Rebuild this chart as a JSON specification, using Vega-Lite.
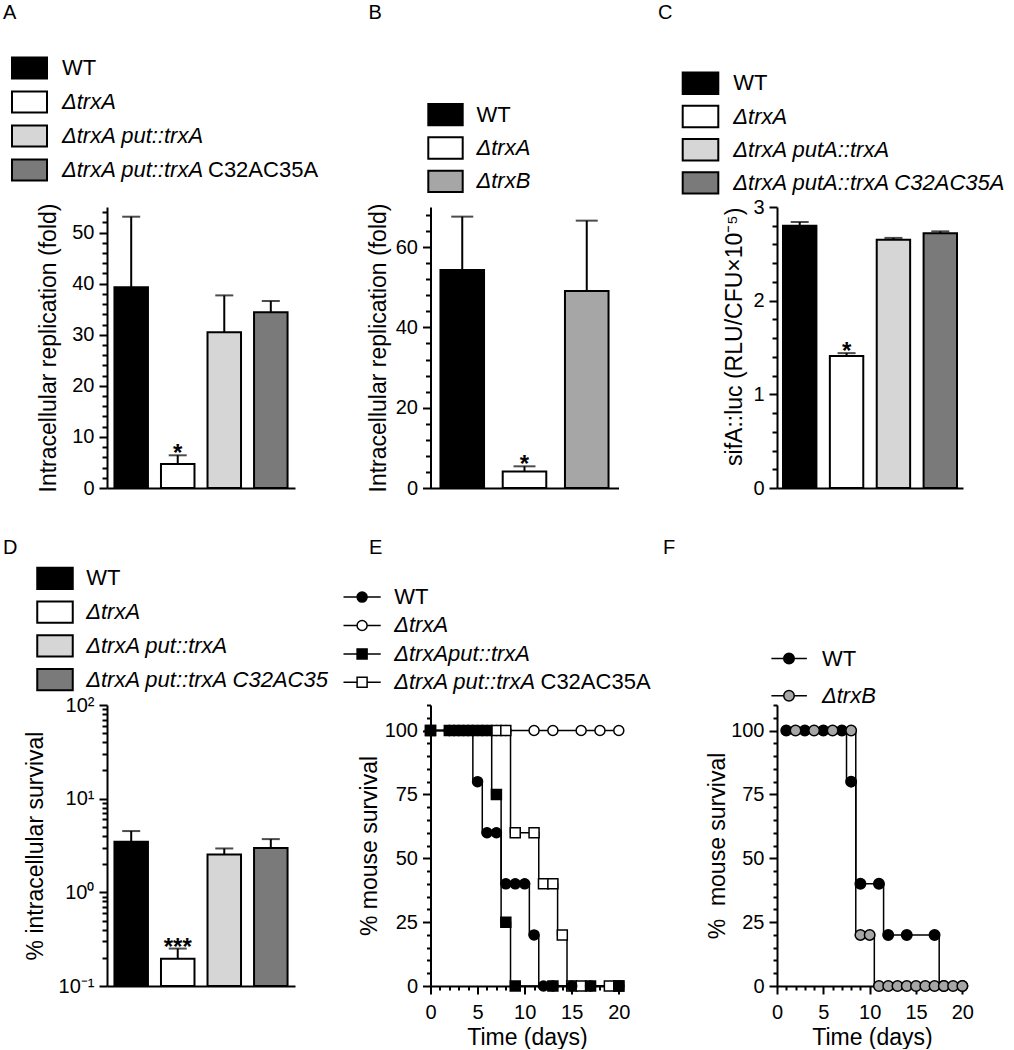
{
"$schema": "https://vega.github.io/schema/vega-lite/v6.json",
"background": "white",
"padding": {"left": 3, "top": 3, "right": 0, "bottom": 0},
"config": {
  "view": {"stroke": null},
  "font": "Liberation Sans",
  "text": {"font": "Liberation Sans", "color": "black"},
  "axis": {"domainColor": "black", "domainWidth": 2, "tickColor": "black", "tickWidth": 2, "labelColor": "black", "labelFont": "Liberation Sans", "labelFontSize": 20, "labelPadding": 5, "labelFlush": false, "labelOverlap": false, "titleFont": "Liberation Sans", "titleFontSize": 23, "titleFontWeight": "normal", "titleColor": "black", "grid": false}
},
"datasets": {
  "eLine": [
    {"s": "WT", "day": 0, "pct": 100}, {"s": "WT", "day": 4.5, "pct": 80}, {"s": "WT", "day": 5.5, "pct": 60}, {"s": "WT", "day": 7.5, "pct": 40}, {"s": "WT", "day": 10.5, "pct": 20}, {"s": "WT", "day": 11.5, "pct": 0}, {"s": "WT", "day": 20, "pct": 0},
    {"s": "ΔtrxA", "day": 0, "pct": 100}, {"s": "ΔtrxA", "day": 20, "pct": 100},
    {"s": "ΔtrxAput::trxA", "day": 0, "pct": 100}, {"s": "ΔtrxAput::trxA", "day": 6.5, "pct": 75}, {"s": "ΔtrxAput::trxA", "day": 7.5, "pct": 25}, {"s": "ΔtrxAput::trxA", "day": 8.5, "pct": 0}, {"s": "ΔtrxAput::trxA", "day": 20, "pct": 0},
    {"s": "ΔtrxA put::trxA C32AC35A", "day": 0, "pct": 100}, {"s": "ΔtrxA put::trxA C32AC35A", "day": 8.5, "pct": 60}, {"s": "ΔtrxA put::trxA C32AC35A", "day": 11.5, "pct": 40}, {"s": "ΔtrxA put::trxA C32AC35A", "day": 13.5, "pct": 20}, {"s": "ΔtrxA put::trxA C32AC35A", "day": 14.5, "pct": 0}, {"s": "ΔtrxA put::trxA C32AC35A", "day": 20, "pct": 0}
  ],
  "ePts": [
    {"s": "ΔtrxA", "day": 0, "pct": 100}, {"s": "ΔtrxA", "day": 2, "pct": 100}, {"s": "ΔtrxA", "day": 3, "pct": 100}, {"s": "ΔtrxA", "day": 4, "pct": 100}, {"s": "ΔtrxA", "day": 5, "pct": 100}, {"s": "ΔtrxA", "day": 6, "pct": 100}, {"s": "ΔtrxA", "day": 7, "pct": 100}, {"s": "ΔtrxA", "day": 8, "pct": 100}, {"s": "ΔtrxA", "day": 11, "pct": 100}, {"s": "ΔtrxA", "day": 13, "pct": 100}, {"s": "ΔtrxA", "day": 16, "pct": 100}, {"s": "ΔtrxA", "day": 18, "pct": 100}, {"s": "ΔtrxA", "day": 20, "pct": 100},
    {"s": "ΔtrxA put::trxA C32AC35A", "day": 0, "pct": 100}, {"s": "ΔtrxA put::trxA C32AC35A", "day": 7, "pct": 100}, {"s": "ΔtrxA put::trxA C32AC35A", "day": 8, "pct": 100}, {"s": "ΔtrxA put::trxA C32AC35A", "day": 9, "pct": 60}, {"s": "ΔtrxA put::trxA C32AC35A", "day": 11, "pct": 60}, {"s": "ΔtrxA put::trxA C32AC35A", "day": 12, "pct": 40}, {"s": "ΔtrxA put::trxA C32AC35A", "day": 13, "pct": 40}, {"s": "ΔtrxA put::trxA C32AC35A", "day": 14, "pct": 20}, {"s": "ΔtrxA put::trxA C32AC35A", "day": 15, "pct": 0}, {"s": "ΔtrxA put::trxA C32AC35A", "day": 16, "pct": 0}, {"s": "ΔtrxA put::trxA C32AC35A", "day": 19, "pct": 0}, {"s": "ΔtrxA put::trxA C32AC35A", "day": 20, "pct": 0},
    {"s": "WT", "day": 0, "pct": 100}, {"s": "WT", "day": 2, "pct": 100}, {"s": "WT", "day": 3, "pct": 100}, {"s": "WT", "day": 4, "pct": 100}, {"s": "WT", "day": 5, "pct": 80}, {"s": "WT", "day": 6, "pct": 60}, {"s": "WT", "day": 7, "pct": 60}, {"s": "WT", "day": 8, "pct": 40}, {"s": "WT", "day": 9, "pct": 40}, {"s": "WT", "day": 10, "pct": 40}, {"s": "WT", "day": 11, "pct": 20}, {"s": "WT", "day": 12, "pct": 0}, {"s": "WT", "day": 13, "pct": 0}, {"s": "WT", "day": 15, "pct": 0}, {"s": "WT", "day": 17, "pct": 0}, {"s": "WT", "day": 20, "pct": 0},
    {"s": "ΔtrxAput::trxA", "day": 0, "pct": 100}, {"s": "ΔtrxAput::trxA", "day": 2, "pct": 100}, {"s": "ΔtrxAput::trxA", "day": 3, "pct": 100}, {"s": "ΔtrxAput::trxA", "day": 4, "pct": 100}, {"s": "ΔtrxAput::trxA", "day": 5, "pct": 100}, {"s": "ΔtrxAput::trxA", "day": 6, "pct": 100}, {"s": "ΔtrxAput::trxA", "day": 7, "pct": 75}, {"s": "ΔtrxAput::trxA", "day": 8, "pct": 25}, {"s": "ΔtrxAput::trxA", "day": 9, "pct": 0}, {"s": "ΔtrxAput::trxA", "day": 13, "pct": 0}, {"s": "ΔtrxAput::trxA", "day": 17, "pct": 0}, {"s": "ΔtrxAput::trxA", "day": 20, "pct": 0}
  ],
  "fLine": [
    {"s": "WT", "day": 1, "pct": 100}, {"s": "WT", "day": 7.5, "pct": 80}, {"s": "WT", "day": 8.5, "pct": 40}, {"s": "WT", "day": 11.5, "pct": 20}, {"s": "WT", "day": 17.5, "pct": 0}, {"s": "WT", "day": 20, "pct": 0},
    {"s": "ΔtrxB", "day": 1, "pct": 100}, {"s": "ΔtrxB", "day": 8.5, "pct": 20}, {"s": "ΔtrxB", "day": 10.5, "pct": 0}, {"s": "ΔtrxB", "day": 20, "pct": 0}
  ],
  "fPts": [
    {"s": "WT", "day": 1, "pct": 100}, {"s": "WT", "day": 3, "pct": 100}, {"s": "WT", "day": 5, "pct": 100}, {"s": "WT", "day": 7, "pct": 100}, {"s": "WT", "day": 8, "pct": 80}, {"s": "WT", "day": 9, "pct": 40}, {"s": "WT", "day": 11, "pct": 40}, {"s": "WT", "day": 12, "pct": 20}, {"s": "WT", "day": 14, "pct": 20}, {"s": "WT", "day": 17, "pct": 20}, {"s": "WT", "day": 18, "pct": 0}, {"s": "WT", "day": 20, "pct": 0},
    {"s": "ΔtrxB", "day": 2, "pct": 100}, {"s": "ΔtrxB", "day": 4, "pct": 100}, {"s": "ΔtrxB", "day": 6, "pct": 100}, {"s": "ΔtrxB", "day": 8, "pct": 100}, {"s": "ΔtrxB", "day": 9, "pct": 20}, {"s": "ΔtrxB", "day": 10, "pct": 20}, {"s": "ΔtrxB", "day": 11, "pct": 0}, {"s": "ΔtrxB", "day": 12, "pct": 0}, {"s": "ΔtrxB", "day": 13, "pct": 0}, {"s": "ΔtrxB", "day": 14, "pct": 0}, {"s": "ΔtrxB", "day": 15, "pct": 0}, {"s": "ΔtrxB", "day": 16, "pct": 0}, {"s": "ΔtrxB", "day": 17, "pct": 0}, {"s": "ΔtrxB", "day": 18, "pct": 0}, {"s": "ΔtrxB", "day": 19, "pct": 0}, {"s": "ΔtrxB", "day": 20, "pct": 0}
  ]
},
"columns": 3,
"spacing": {"row": 4, "column": 135.5},
"bounds": "flush",
"align": "each",
"resolve": {"scale": {"x": "independent", "y": "independent", "fill": "independent", "shape": "independent", "size": "independent"}},
"concat": [
{
  "width": 188, "height": 200,
  "data": {"values": [
    {"strain": "WT", "label": "WT", "suffix": "", "i": 0},
    {"strain": "ΔtrxA", "label": "ΔtrxA", "suffix": "", "i": 1},
    {"strain": "ΔtrxA put::trxA", "label": "ΔtrxA put::trxA", "suffix": "", "i": 2},
    {"strain": "ΔtrxA put::trxA C32AC35A", "label": "ΔtrxA put::trxA", "suffix": "C32AC35A", "i": 3}
  ]},
  "layer": [
    {"data": {"values": [{"panel": "A"}]}, "mark": {"type": "text", "fontSize": 20, "align": "left", "baseline": "alphabetic"},
     "encoding": {"x": {"datum": -104, "type": "quantitative", "scale": {"domain": [0, 188], "nice": false, "zero": false}, "axis": null}, "y": {"datum": -1.4412, "type": "quantitative", "scale": {"domain": [-1.9118, 3.9706], "reverse": true, "nice": false, "zero": false}, "axis": null}, "text": {"field": "panel"}}},
    {"mark": {"type": "point", "shape": "M-1,-0.6H1V0.6H-1Z", "size": 1225, "filled": true, "stroke": "black", "strokeWidth": 2, "opacity": 1},
     "encoding": {"x": {"datum": -77.5, "type": "quantitative", "scale": {"domain": [0, 188], "nice": false, "zero": false}, "axis": null}, "y": {"field": "i", "type": "quantitative", "scale": {"domain": [-1.9118, 3.9706], "reverse": true, "nice": false, "zero": false}, "axis": null},
       "fill": {"field": "strain", "type": "nominal", "scale": {"domain": ["WT", "ΔtrxA", "ΔtrxA put::trxA", "ΔtrxA put::trxA C32AC35A"], "range": ["#000000", "#ffffff", "#d6d6d6", "#7a7a7a"]}, "legend": null}}},
    {"transform": [{"filter": "datum.label == 'WT'"}], "mark": {"type": "text", "fontSize": 22, "align": "left", "baseline": "middle"},
     "encoding": {"x": {"datum": -45, "type": "quantitative", "scale": {"domain": [0, 188], "nice": false, "zero": false}, "axis": null}, "y": {"field": "i", "type": "quantitative", "scale": {"domain": [-1.9118, 3.9706], "reverse": true, "nice": false, "zero": false}, "axis": null}, "text": {"field": "label"}}},
    {"transform": [{"filter": "datum.label != 'WT'"}], "mark": {"type": "text", "fontSize": 22, "align": "left", "baseline": "middle", "fontStyle": "italic"},
     "encoding": {"x": {"datum": -45, "type": "quantitative", "scale": {"domain": [0, 188], "nice": false, "zero": false}, "axis": null}, "y": {"field": "i", "type": "quantitative", "scale": {"domain": [-1.9118, 3.9706], "reverse": true, "nice": false, "zero": false}, "axis": null}, "text": {"field": "label"}}},
    {"mark": {"type": "text", "fontSize": 22, "align": "left", "baseline": "middle"},
     "encoding": {"x": {"datum": 101, "type": "quantitative", "scale": {"domain": [0, 188], "nice": false, "zero": false}, "axis": null}, "y": {"field": "i", "type": "quantitative", "scale": {"domain": [-1.9118, 3.9706], "reverse": true, "nice": false, "zero": false}, "axis": null}, "text": {"field": "suffix"}}}
  ]
},
{
  "width": 211, "height": 200,
  "data": {"values": [
    {"strain": "WT", "label": "WT", "i": 0},
    {"strain": "ΔtrxA", "label": "ΔtrxA", "i": 1},
    {"strain": "ΔtrxB", "label": "ΔtrxB", "i": 2}
  ]},
  "layer": [
    {"data": {"values": [{"panel": "B"}]}, "mark": {"type": "text", "fontSize": 20, "align": "left", "baseline": "alphabetic"},
     "encoding": {"x": {"datum": -62, "type": "quantitative", "scale": {"domain": [0, 211], "nice": false, "zero": false}, "axis": null}, "y": {"datum": -2.8739, "type": "quantitative", "scale": {"domain": [-3.3544, 2.6516], "reverse": true, "nice": false, "zero": false}, "axis": null}, "text": {"field": "panel"}}},
    {"mark": {"type": "point", "shape": "M-1,-0.62H1V0.62H-1Z", "size": 1183, "filled": true, "stroke": "black", "strokeWidth": 2, "opacity": 1},
     "encoding": {"x": {"datum": 15, "type": "quantitative", "scale": {"domain": [0, 211], "nice": false, "zero": false}, "axis": null}, "y": {"field": "i", "type": "quantitative", "scale": {"domain": [-3.3544, 2.6516], "reverse": true, "nice": false, "zero": false}, "axis": null},
       "fill": {"field": "strain", "type": "nominal", "scale": {"domain": ["WT", "ΔtrxA", "ΔtrxB"], "range": ["#000000", "#ffffff", "#a6a6a6"]}, "legend": null}}},
    {"transform": [{"filter": "datum.label == 'WT'"}], "mark": {"type": "text", "fontSize": 22, "align": "left", "baseline": "middle"},
     "encoding": {"x": {"datum": 46, "type": "quantitative", "scale": {"domain": [0, 211], "nice": false, "zero": false}, "axis": null}, "y": {"field": "i", "type": "quantitative", "scale": {"domain": [-3.3544, 2.6516], "reverse": true, "nice": false, "zero": false}, "axis": null}, "text": {"field": "label"}}},
    {"transform": [{"filter": "datum.label != 'WT'"}], "mark": {"type": "text", "fontSize": 22, "align": "left", "baseline": "middle", "fontStyle": "italic"},
     "encoding": {"x": {"datum": 46, "type": "quantitative", "scale": {"domain": [0, 211], "nice": false, "zero": false}, "axis": null}, "y": {"field": "i", "type": "quantitative", "scale": {"domain": [-3.3544, 2.6516], "reverse": true, "nice": false, "zero": false}, "axis": null}, "text": {"field": "label"}}}
  ]
},
{
  "width": 186, "height": 200,
  "data": {"values": [
    {"strain": "WT", "label": "WT", "i": 0},
    {"strain": "ΔtrxA", "label": "ΔtrxA", "i": 1},
    {"strain": "ΔtrxA putA::trxA", "label": "ΔtrxA putA::trxA", "i": 2},
    {"strain": "ΔtrxA putA::trxA C32AC35A", "label": "ΔtrxA putA::trxA C32AC35A", "i": 3}
  ]},
  "layer": [
    {"data": {"values": [{"panel": "C"}]}, "mark": {"type": "text", "fontSize": 20, "align": "left", "baseline": "alphabetic"},
     "encoding": {"x": {"datum": -119, "type": "quantitative", "scale": {"domain": [0, 186], "nice": false, "zero": false}, "axis": null}, "y": {"datum": -1.9367, "type": "quantitative", "scale": {"domain": [-2.4187, 3.6054], "reverse": true, "nice": false, "zero": false}, "axis": null}, "text": {"field": "panel"}}},
    {"mark": {"type": "point", "shape": "M-1,-0.6H1V0.6H-1Z", "size": 1267, "filled": true, "stroke": "black", "strokeWidth": 2, "opacity": 1},
     "encoding": {"x": {"datum": -76.5, "type": "quantitative", "scale": {"domain": [0, 186], "nice": false, "zero": false}, "axis": null}, "y": {"field": "i", "type": "quantitative", "scale": {"domain": [-2.4187, 3.6054], "reverse": true, "nice": false, "zero": false}, "axis": null},
       "fill": {"field": "strain", "type": "nominal", "scale": {"domain": ["WT", "ΔtrxA", "ΔtrxA putA::trxA", "ΔtrxA putA::trxA C32AC35A"], "range": ["#000000", "#ffffff", "#d6d6d6", "#7a7a7a"]}, "legend": null}}},
    {"transform": [{"filter": "datum.label == 'WT'"}], "mark": {"type": "text", "fontSize": 22, "align": "left", "baseline": "middle"},
     "encoding": {"x": {"datum": -43.7, "type": "quantitative", "scale": {"domain": [0, 186], "nice": false, "zero": false}, "axis": null}, "y": {"field": "i", "type": "quantitative", "scale": {"domain": [-2.4187, 3.6054], "reverse": true, "nice": false, "zero": false}, "axis": null}, "text": {"field": "label"}}},
    {"transform": [{"filter": "datum.label != 'WT'"}], "mark": {"type": "text", "fontSize": 22, "align": "left", "baseline": "middle", "fontStyle": "italic"},
     "encoding": {"x": {"datum": -43.7, "type": "quantitative", "scale": {"domain": [0, 186], "nice": false, "zero": false}, "axis": null}, "y": {"field": "i", "type": "quantitative", "scale": {"domain": [-2.4187, 3.6054], "reverse": true, "nice": false, "zero": false}, "axis": null}, "text": {"field": "label"}}}
  ]
},
{
  "width": 188, "height": 281,
  "data": {"values": [
    {"strain": "WT", "value": 39.3, "err": 53.1, "sig": ""},
    {"strain": "ΔtrxA", "value": 4.7, "err": 6.4, "sig": "*"},
    {"strain": "ΔtrxA put::trxA", "value": 30.5, "err": 37.7, "sig": ""},
    {"strain": "ΔtrxA put::trxA C32AC35A", "value": 34.4, "err": 36.6, "sig": ""}
  ]},
  "encoding": {"x": {"field": "strain", "type": "nominal", "sort": null, "scale": {"paddingInner": 0.28, "paddingOuter": 0.16}, "axis": {"labels": false, "ticks": false, "title": null}}},
  "layer": [
    {"mark": {"type": "bar", "stroke": "black", "strokeWidth": 2},
     "encoding": {"y": {"field": "value", "type": "quantitative", "scale": {"domain": [0, 55], "nice": false}, "axis": {"orient": "left", "values": [0, 10, 20, 30, 40, 50], "tickSize": 8, "title": "Intracellular replication (fold)", "titlePadding": 11}},
       "fill": {"field": "strain", "type": "nominal", "scale": {"domain": ["WT", "ΔtrxA", "ΔtrxA put::trxA", "ΔtrxA put::trxA C32AC35A"], "range": ["#000000", "#ffffff", "#d6d6d6", "#7a7a7a"]}, "legend": null}}},
    {"mark": {"type": "rule", "strokeWidth": 2, "color": "black"},
     "encoding": {"y": {"field": "value", "type": "quantitative", "axis": {"orient": "left", "values": [2, 4, 6, 8, 12, 14, 16, 18, 22, 24, 26, 28, 32, 34, 36, 38, 42, 44, 46, 48, 52, 54], "tickSize": 5, "labels": false, "domain": false, "title": null}}, "y2": {"field": "err"}}},
    {"mark": {"type": "tick", "orient": "horizontal", "size": 18, "thickness": 2, "color": "black"},
     "encoding": {"y": {"field": "err", "type": "quantitative", "axis": null}}},
    {"mark": {"type": "text", "fontSize": 24, "fontWeight": "bold", "baseline": "alphabetic", "dy": 6},
     "encoding": {"y": {"field": "err", "type": "quantitative", "axis": null}, "text": {"field": "sig"}}}
  ],
  "resolve": {"axis": {"y": "independent"}}
},
{
  "width": 188, "height": 281,
  "data": {"values": [
    {"strain": "WT", "value": 54.3, "err": 67.6, "sig": ""},
    {"strain": "ΔtrxA", "value": 4.1, "err": 5.4, "sig": "*"},
    {"strain": "ΔtrxB", "value": 49.1, "err": 66.6, "sig": ""}
  ]},
  "encoding": {"x": {"field": "strain", "type": "nominal", "sort": null, "scale": {"paddingInner": 0.3, "paddingOuter": 0.16}, "axis": {"labels": false, "ticks": false, "title": null}}},
  "layer": [
    {"mark": {"type": "bar", "stroke": "black", "strokeWidth": 2},
     "encoding": {"y": {"field": "value", "type": "quantitative", "scale": {"domain": [0, 70], "nice": false}, "axis": {"orient": "left", "values": [0, 20, 40, 60], "tickSize": 8, "title": "Intracellular replication (fold)", "titlePadding": 5}},
       "fill": {"field": "strain", "type": "nominal", "scale": {"domain": ["WT", "ΔtrxA", "ΔtrxB"], "range": ["#000000", "#ffffff", "#a6a6a6"]}, "legend": null}}},
    {"mark": {"type": "rule", "strokeWidth": 2, "color": "black"},
     "encoding": {"y": {"field": "value", "type": "quantitative", "axis": {"orient": "left", "values": [4, 8, 12, 16, 24, 28, 32, 36, 44, 48, 52, 56, 64, 68], "tickSize": 5, "labels": false, "domain": false, "title": null}}, "y2": {"field": "err"}}},
    {"mark": {"type": "tick", "orient": "horizontal", "size": 22, "thickness": 2, "color": "black"},
     "encoding": {"y": {"field": "err", "type": "quantitative", "axis": null}}},
    {"mark": {"type": "text", "fontSize": 24, "fontWeight": "bold", "baseline": "alphabetic", "dy": 6},
     "encoding": {"y": {"field": "err", "type": "quantitative", "axis": null}, "text": {"field": "sig"}}}
  ],
  "resolve": {"axis": {"y": "independent"}}
},
{
  "width": 186, "height": 281,
  "data": {"values": [
    {"strain": "WT", "value": 2.8, "err": 2.84, "sig": ""},
    {"strain": "ΔtrxA", "value": 1.41, "err": 1.44, "sig": "*"},
    {"strain": "ΔtrxA putA::trxA", "value": 2.65, "err": 2.67, "sig": ""},
    {"strain": "ΔtrxA putA::trxA C32AC35A", "value": 2.72, "err": 2.74, "sig": ""}
  ]},
  "encoding": {"x": {"field": "strain", "type": "nominal", "sort": null, "scale": {"paddingInner": 0.287, "paddingOuter": 0.128}, "axis": {"labels": false, "ticks": false, "title": null}}},
  "layer": [
    {"mark": {"type": "bar", "stroke": "black", "strokeWidth": 2},
     "encoding": {"y": {"field": "value", "type": "quantitative", "scale": {"domain": [0, 3], "nice": false}, "axis": {"orient": "left", "values": [0, 1, 2, 3], "tickSize": 8, "title": "sifA::luc (RLU/CFU×10⁻⁵)", "titleAnchor": "end", "titlePadding": 6}},
       "fill": {"field": "strain", "type": "nominal", "scale": {"domain": ["WT", "ΔtrxA", "ΔtrxA putA::trxA", "ΔtrxA putA::trxA C32AC35A"], "range": ["#000000", "#ffffff", "#d6d6d6", "#7a7a7a"]}, "legend": null}}},
    {"mark": {"type": "rule", "strokeWidth": 2, "color": "black"},
     "encoding": {"y": {"field": "value", "type": "quantitative", "axis": {"orient": "left", "values": [0.2, 0.4, 0.6, 0.8, 1.2, 1.4, 1.6, 1.8, 2.2, 2.4, 2.6, 2.8], "tickSize": 5, "labels": false, "domain": false, "title": null}}, "y2": {"field": "err"}}},
    {"mark": {"type": "tick", "orient": "horizontal", "size": 18, "thickness": 2, "color": "black"},
     "encoding": {"y": {"field": "err", "type": "quantitative", "axis": null}}},
    {"mark": {"type": "text", "fontSize": 24, "fontWeight": "bold", "baseline": "alphabetic", "dy": 6},
     "encoding": {"y": {"field": "err", "type": "quantitative", "axis": null}, "text": {"field": "sig"}}}
  ],
  "resolve": {"axis": {"y": "independent"}}
},
{
  "width": 188, "height": 209,
  "data": {"values": [
    {"strain": "WT", "label": "WT", "i": 0},
    {"strain": "ΔtrxA", "label": "ΔtrxA", "i": 1},
    {"strain": "ΔtrxA put::trxA", "label": "ΔtrxA put::trxA", "i": 2},
    {"strain": "ΔtrxA put::trxA C32AC35", "label": "ΔtrxA put::trxA C32AC35", "i": 3}
  ]},
  "layer": [
    {"data": {"values": [{"panel": "D"}]}, "mark": {"type": "text", "fontSize": 20, "align": "left", "baseline": "alphabetic"},
     "encoding": {"x": {"datum": -104, "type": "quantitative", "scale": {"domain": [0, 188], "nice": false, "zero": false}, "axis": null}, "y": {"datum": -0.7042, "type": "quantitative", "scale": {"domain": [-2.5533, 3.6301], "reverse": true, "nice": false, "zero": false}, "axis": null}, "text": {"field": "panel"}}},
    {"mark": {"type": "point", "shape": "M-1,-0.6H1V0.6H-1Z", "size": 1260, "filled": true, "stroke": "black", "strokeWidth": 2, "opacity": 1},
     "encoding": {"x": {"datum": -52, "type": "quantitative", "scale": {"domain": [0, 188], "nice": false, "zero": false}, "axis": null}, "y": {"field": "i", "type": "quantitative", "scale": {"domain": [-2.5533, 3.6301], "reverse": true, "nice": false, "zero": false}, "axis": null},
       "fill": {"field": "strain", "type": "nominal", "scale": {"domain": ["WT", "ΔtrxA", "ΔtrxA put::trxA", "ΔtrxA put::trxA C32AC35"], "range": ["#000000", "#ffffff", "#d6d6d6", "#7a7a7a"]}, "legend": null}}},
    {"transform": [{"filter": "datum.label == 'WT'"}], "mark": {"type": "text", "fontSize": 22, "align": "left", "baseline": "middle"},
     "encoding": {"x": {"datum": -20.8, "type": "quantitative", "scale": {"domain": [0, 188], "nice": false, "zero": false}, "axis": null}, "y": {"field": "i", "type": "quantitative", "scale": {"domain": [-2.5533, 3.6301], "reverse": true, "nice": false, "zero": false}, "axis": null}, "text": {"field": "label"}}},
    {"transform": [{"filter": "datum.label != 'WT'"}], "mark": {"type": "text", "fontSize": 22, "align": "left", "baseline": "middle", "fontStyle": "italic"},
     "encoding": {"x": {"datum": -20.8, "type": "quantitative", "scale": {"domain": [0, 188], "nice": false, "zero": false}, "axis": null}, "y": {"field": "i", "type": "quantitative", "scale": {"domain": [-2.5533, 3.6301], "reverse": true, "nice": false, "zero": false}, "axis": null}, "text": {"field": "label"}}}
  ]
},
{
  "width": 211, "height": 209,
  "data": {"values": [
    {"s": "WT", "label": "WT", "suffix": "", "i": 0},
    {"s": "ΔtrxA", "label": "ΔtrxA", "suffix": "", "i": 1},
    {"s": "ΔtrxAput::trxA", "label": "ΔtrxAput::trxA", "suffix": "", "i": 2},
    {"s": "ΔtrxA put::trxA C32AC35A", "label": "ΔtrxA put::trxA", "suffix": "C32AC35A", "i": 3}
  ]},
  "layer": [
    {"data": {"values": [{"panel": "E"}]}, "mark": {"type": "text", "fontSize": 20, "align": "left", "baseline": "alphabetic"},
     "encoding": {"x": {"datum": -61.6, "type": "quantitative", "scale": {"domain": [0, 211], "nice": false, "zero": false}, "axis": null}, "y": {"datum": -1.5, "type": "quantitative", "scale": {"domain": [-3.7007, 3.6585], "reverse": true, "nice": false, "zero": false}, "axis": null}, "text": {"field": "panel"}}},
    {"mark": {"type": "rule", "strokeWidth": 1.5, "color": "black"},
     "encoding": {"x": {"datum": -87, "type": "quantitative", "scale": {"domain": [0, 211], "nice": false, "zero": false}, "axis": null}, "x2": {"datum": -49.8}, "y": {"field": "i", "type": "quantitative", "scale": {"domain": [-3.7007, 3.6585], "reverse": true, "nice": false, "zero": false}, "axis": null}}},
    {"mark": {"type": "point", "filled": true, "stroke": "black", "strokeWidth": 1.5, "opacity": 1},
     "encoding": {"x": {"datum": -68.4, "type": "quantitative", "scale": {"domain": [0, 211], "nice": false, "zero": false}, "axis": null}, "y": {"field": "i", "type": "quantitative", "scale": {"domain": [-3.7007, 3.6585], "reverse": true, "nice": false, "zero": false}, "axis": null},
       "shape": {"field": "s", "type": "nominal", "scale": {"domain": ["WT", "ΔtrxA", "ΔtrxAput::trxA", "ΔtrxA put::trxA C32AC35A"], "range": ["circle", "circle", "square", "square"]}, "legend": null},
       "fill": {"field": "s", "type": "nominal", "scale": {"domain": ["WT", "ΔtrxA", "ΔtrxAput::trxA", "ΔtrxA put::trxA C32AC35A"], "range": ["#000000", "#ffffff", "#000000", "#ffffff"]}, "legend": null},
       "size": {"field": "s", "type": "nominal", "scale": {"domain": ["WT", "ΔtrxA", "ΔtrxAput::trxA", "ΔtrxA put::trxA C32AC35A"], "range": [100, 100, 120, 120]}, "legend": null}}},
    {"transform": [{"filter": "datum.label == 'WT'"}], "mark": {"type": "text", "fontSize": 22, "align": "left", "baseline": "middle"},
     "encoding": {"x": {"datum": -36.3, "type": "quantitative", "scale": {"domain": [0, 211], "nice": false, "zero": false}, "axis": null}, "y": {"field": "i", "type": "quantitative", "scale": {"domain": [-3.7007, 3.6585], "reverse": true, "nice": false, "zero": false}, "axis": null}, "text": {"field": "label"}}},
    {"transform": [{"filter": "datum.label != 'WT'"}], "mark": {"type": "text", "fontSize": 22, "align": "left", "baseline": "middle", "fontStyle": "italic"},
     "encoding": {"x": {"datum": -36.3, "type": "quantitative", "scale": {"domain": [0, 211], "nice": false, "zero": false}, "axis": null}, "y": {"field": "i", "type": "quantitative", "scale": {"domain": [-3.7007, 3.6585], "reverse": true, "nice": false, "zero": false}, "axis": null}, "text": {"field": "label"}}},
    {"mark": {"type": "text", "fontSize": 22, "align": "left", "baseline": "middle"},
     "encoding": {"x": {"datum": 110, "type": "quantitative", "scale": {"domain": [0, 211], "nice": false, "zero": false}, "axis": null}, "y": {"field": "i", "type": "quantitative", "scale": {"domain": [-3.7007, 3.6585], "reverse": true, "nice": false, "zero": false}, "axis": null}, "text": {"field": "suffix"}}}
  ]
},
{
  "width": 186, "height": 209,
  "data": {"values": [
    {"s": "WT", "label": "WT", "i": 0},
    {"s": "ΔtrxB", "label": "ΔtrxB", "i": 1}
  ]},
  "layer": [
    {"data": {"values": [{"panel": "F"}]}, "mark": {"type": "text", "fontSize": 20, "align": "left", "baseline": "alphabetic"},
     "encoding": {"x": {"datum": -114, "type": "quantitative", "scale": {"domain": [0, 186], "nice": false, "zero": false}, "axis": null}, "y": {"datum": -2.7984, "type": "quantitative", "scale": {"domain": [-4.4785, 1.1398], "reverse": true, "nice": false, "zero": false}, "axis": null}, "text": {"field": "panel"}}},
    {"mark": {"type": "rule", "strokeWidth": 1.5, "color": "black"},
     "encoding": {"x": {"datum": -5.6, "type": "quantitative", "scale": {"domain": [0, 186], "nice": false, "zero": false}, "axis": null}, "x2": {"datum": 29.9}, "y": {"field": "i", "type": "quantitative", "scale": {"domain": [-4.4785, 1.1398], "reverse": true, "nice": false, "zero": false}, "axis": null}}},
    {"mark": {"type": "point", "shape": "circle", "size": 110, "filled": true, "stroke": "black", "strokeWidth": 1.5, "opacity": 1},
     "encoding": {"x": {"datum": 12, "type": "quantitative", "scale": {"domain": [0, 186], "nice": false, "zero": false}, "axis": null}, "y": {"field": "i", "type": "quantitative", "scale": {"domain": [-4.4785, 1.1398], "reverse": true, "nice": false, "zero": false}, "axis": null},
       "fill": {"field": "s", "type": "nominal", "scale": {"domain": ["WT", "ΔtrxB"], "range": ["#000000", "#a6a6a6"]}, "legend": null}}},
    {"transform": [{"filter": "datum.label == 'WT'"}], "mark": {"type": "text", "fontSize": 22, "align": "left", "baseline": "middle"},
     "encoding": {"x": {"datum": 45, "type": "quantitative", "scale": {"domain": [0, 186], "nice": false, "zero": false}, "axis": null}, "y": {"field": "i", "type": "quantitative", "scale": {"domain": [-4.4785, 1.1398], "reverse": true, "nice": false, "zero": false}, "axis": null}, "text": {"field": "label"}}},
    {"transform": [{"filter": "datum.label != 'WT'"}], "mark": {"type": "text", "fontSize": 22, "align": "left", "baseline": "middle", "fontStyle": "italic"},
     "encoding": {"x": {"datum": 45, "type": "quantitative", "scale": {"domain": [0, 186], "nice": false, "zero": false}, "axis": null}, "y": {"field": "i", "type": "quantitative", "scale": {"domain": [-4.4785, 1.1398], "reverse": true, "nice": false, "zero": false}, "axis": null}, "text": {"field": "label"}}}
  ]
},
{
  "width": 188, "height": 281,
  "data": {"values": [
    {"strain": "WT", "value": 3.47, "err": 4.51, "sig": ""},
    {"strain": "ΔtrxA", "value": 0.196, "err": 0.251, "sig": "***"},
    {"strain": "ΔtrxA put::trxA", "value": 2.53, "err": 2.94, "sig": ""},
    {"strain": "ΔtrxA put::trxA C32AC35", "value": 2.98, "err": 3.7, "sig": ""}
  ]},
  "encoding": {"x": {"field": "strain", "type": "nominal", "sort": null, "scale": {"paddingInner": 0.28, "paddingOuter": 0.16}, "axis": {"labels": false, "ticks": false, "title": null}}},
  "layer": [
    {"mark": {"type": "bar", "stroke": "black", "strokeWidth": 2},
     "encoding": {"y": {"field": "value", "type": "quantitative", "scale": {"type": "log", "domain": [0.1, 100], "nice": false}, "axis": {"orient": "left", "values": [0.1, 1, 10, 100], "tickSize": 8, "labelExpr": "datum.value < 0.5 ? '10⁻¹' : datum.value < 5 ? '10⁰' : datum.value < 50 ? '10¹' : '10²'", "title": "% intracellular survival", "titlePadding": 11}},
       "y2": {"datum": 0.1},
       "fill": {"field": "strain", "type": "nominal", "scale": {"domain": ["WT", "ΔtrxA", "ΔtrxA put::trxA", "ΔtrxA put::trxA C32AC35"], "range": ["#000000", "#ffffff", "#d6d6d6", "#7a7a7a"]}, "legend": null}}},
    {"mark": {"type": "rule", "strokeWidth": 2, "color": "black"},
     "encoding": {"y": {"field": "value", "type": "quantitative", "axis": {"orient": "left", "values": [0.2, 0.3, 0.4, 0.5, 0.6, 0.7, 0.8, 0.9, 2, 3, 4, 5, 6, 7, 8, 9, 20, 30, 40, 50, 60, 70, 80, 90], "tickSize": 5, "labels": false, "domain": false, "title": null}}, "y2": {"field": "err"}}},
    {"mark": {"type": "tick", "orient": "horizontal", "size": 18, "thickness": 2, "color": "black"},
     "encoding": {"y": {"field": "err", "type": "quantitative", "axis": null}}},
    {"mark": {"type": "text", "fontSize": 24, "fontWeight": "bold", "baseline": "alphabetic", "dy": 6},
     "encoding": {"y": {"field": "err", "type": "quantitative", "axis": null}, "text": {"field": "sig"}}}
  ],
  "resolve": {"axis": {"y": "independent"}}
},
{
  "width": 193, "height": 281,
  "layer": [
    {"data": {"name": "eLine"}, "mark": {"type": "line", "interpolate": "step-after", "color": "black", "strokeWidth": 1.5},
     "encoding": {"x": {"field": "day", "type": "quantitative", "scale": {"domain": [0, 20.5], "nice": false, "zero": false}, "axis": {"orient": "bottom", "values": [0, 5, 10, 15, 20], "tickSize": 8, "labelPadding": 8, "title": "Time (days)", "titlePadding": 4}},
       "y": {"field": "pct", "type": "quantitative", "scale": {"domain": [0, 110], "nice": false}, "axis": {"orient": "left", "values": [0, 25, 50, 75, 100], "tickSize": 8, "title": "% mouse survival", "titlePadding": 3}},
       "detail": {"field": "s"}}},
    {"data": {"name": "ePts"}, "mark": {"type": "point", "filled": true, "stroke": "black", "strokeWidth": 1.5, "opacity": 1},
     "encoding": {"x": {"field": "day", "type": "quantitative", "axis": {"orient": "bottom", "values": [1, 2, 3, 4, 6, 7, 8, 9, 11, 12, 13, 14, 16, 17, 18, 19], "tickSize": 4, "labels": false, "domain": false, "title": null}},
       "y": {"field": "pct", "type": "quantitative", "axis": {"orient": "left", "values": [5, 10, 15, 20, 30, 35, 40, 45, 55, 60, 65, 70, 80, 85, 90, 95, 105, 110], "tickSize": 4, "labels": false, "domain": false, "title": null}},
       "shape": {"field": "s", "type": "nominal", "scale": {"domain": ["WT", "ΔtrxA", "ΔtrxAput::trxA", "ΔtrxA put::trxA C32AC35A"], "range": ["circle", "circle", "square", "square"]}, "legend": null},
       "fill": {"field": "s", "type": "nominal", "scale": {"domain": ["WT", "ΔtrxA", "ΔtrxAput::trxA", "ΔtrxA put::trxA C32AC35A"], "range": ["#000000", "#ffffff", "#000000", "#ffffff"]}, "legend": null},
       "size": {"field": "s", "type": "nominal", "scale": {"domain": ["WT", "ΔtrxA", "ΔtrxAput::trxA", "ΔtrxA put::trxA C32AC35A"], "range": [100, 100, 120, 120]}, "legend": null}}}
  ],
  "resolve": {"axis": {"x": "independent", "y": "independent"}}
},
{
  "width": 190, "height": 281,
  "layer": [
    {"data": {"name": "fLine"}, "mark": {"type": "line", "interpolate": "step-after", "color": "black", "strokeWidth": 1.5},
     "encoding": {"x": {"field": "day", "type": "quantitative", "scale": {"domain": [0, 20.5], "nice": false, "zero": false}, "axis": {"orient": "bottom", "values": [0, 5, 10, 15, 20], "tickSize": 8, "labelPadding": 8, "title": "Time (days)", "titlePadding": 4}},
       "y": {"field": "pct", "type": "quantitative", "scale": {"domain": [0, 110], "nice": false}, "axis": {"orient": "left", "values": [0, 25, 50, 75, 100], "tickSize": 8, "title": "% \u00a0mouse survival", "titlePadding": 1}},
       "detail": {"field": "s"}}},
    {"data": {"name": "fPts"}, "mark": {"type": "point", "shape": "circle", "size": 110, "filled": true, "stroke": "black", "strokeWidth": 1.5, "opacity": 1},
     "encoding": {"x": {"field": "day", "type": "quantitative", "axis": {"orient": "bottom", "values": [1, 2, 3, 4, 6, 7, 8, 9, 11, 12, 13, 14, 16, 17, 18, 19], "tickSize": 4, "labels": false, "domain": false, "title": null}},
       "y": {"field": "pct", "type": "quantitative", "axis": {"orient": "left", "values": [5, 10, 15, 20, 30, 35, 40, 45, 55, 60, 65, 70, 80, 85, 90, 95, 105, 110], "tickSize": 4, "labels": false, "domain": false, "title": null}},
       "fill": {"field": "s", "type": "nominal", "scale": {"domain": ["WT", "ΔtrxB"], "range": ["#000000", "#a6a6a6"]}, "legend": null}}}
  ],
  "resolve": {"axis": {"x": "independent", "y": "independent"}}
}
]
}
